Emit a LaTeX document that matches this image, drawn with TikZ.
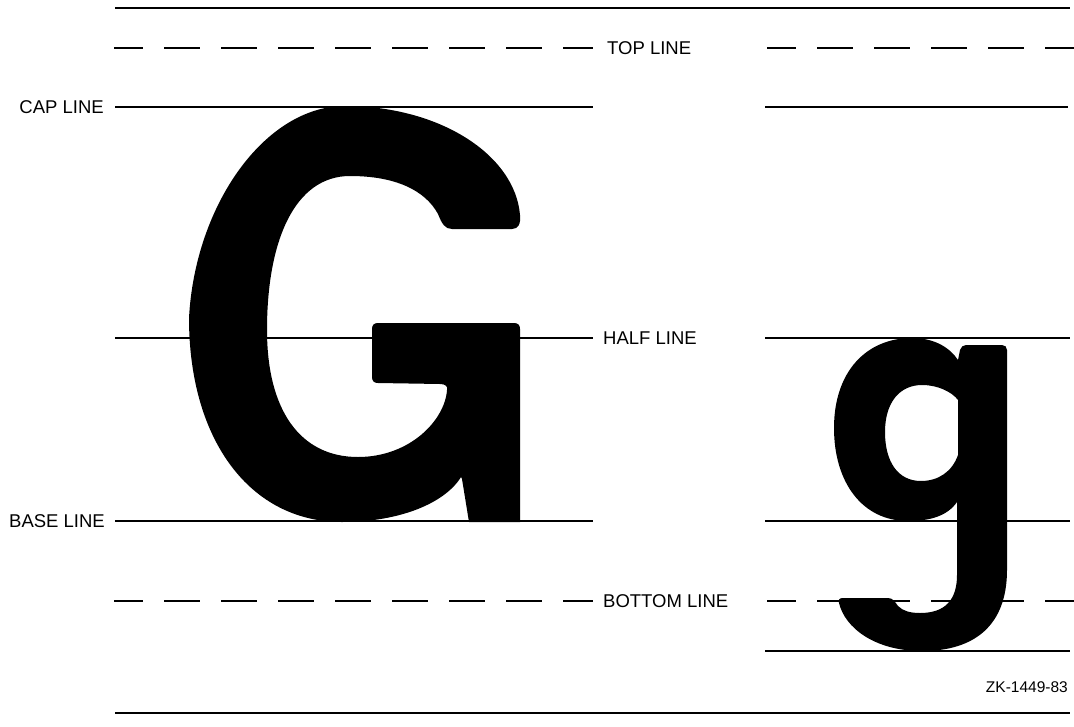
\documentclass[tikz,border=0pt]{standalone}
\usepackage{fontspec}
\setmainfont{Liberation Sans}

\tikzset{
    rule/.style={line width=1.8pt},
    dashrule/.style={line width=1.8pt, dash pattern=on 36pt off 21pt, dash phase=7pt},
    tag/.style={font=\fontsize{18.5}{20}\selectfont, inner sep=0pt},
    glyph/.style={fill=black, even odd rule}
}

\begin{document}
\begin{tikzpicture}[x=1pt, y=-1pt]
    \useasboundingbox (0,0) rectangle (1074,726);

    % Labels
    \node[tag, anchor=west] (top)    at (607,48)  {TOP LINE};
    \node[tag, anchor=east] (cap)    at (104,107) {CAP LINE};
    \node[tag, anchor=west] (half)   at (603,338) {HALF LINE};
    \node[tag, anchor=east] (base)   at (105,521) {BASE LINE};
    \node[tag, anchor=west] (bottom) at (603,601) {BOTTOM LINE};
    \node[font=\fontsize{15.5}{17}\selectfont, inner sep=0pt, anchor=east] (ref) at (1068,687) {ZK-1449-83};

    % Frame
    \draw[rule] (115,8) -- (1070,8);
    \draw[rule] (115,713) -- (1070,713);

    % Guide lines, capital
    \draw[dashrule] (114,48) -- ([xshift=-14pt]top.west);
    \draw[rule] ([xshift=11pt]cap.east) -- (593,107);
    \draw[rule] (115,338) -- ([xshift=-10pt]half.west);
    \draw[rule] ([xshift=10pt]base.east) -- (593,521);
    \draw[dashrule] (114,601) -- ([xshift=-10pt]bottom.west);

    % Guide lines, lower case
    \draw[dashrule] (767,48) -- (1074,48);
    \draw[rule] (765,107) -- (1068,107);
    \draw[rule] (765,338) -- (1070,338);
    \draw[rule] (765,521) -- (1070,521);
    \draw[dashrule] (767,601) -- (1074,601);
    \draw[rule] (765,651) -- (1070,651);

    % Capital G
    \fill[glyph] (461,477)
        .. controls (445,503) and (400,522) .. (342,522)
        .. controls (250,522) and (189,440) .. (189,318)
        .. controls (195,205) and (265,106) .. (345,106)
        .. controls (440,106) and (515,155) .. (520,215)
        .. controls (521,224) and (518,229) .. (512,229)
        -- (452,229)
        .. controls (445,229) and (442,224) .. (438,214)
        .. controls (425,190) and (395,176) .. (350,176)
        .. controls (295,176) and (267,240) .. (267,330)
        .. controls (267,410) and (300,457) .. (358,457)
        .. controls (410,457) and (445,420) .. (447,390)
        .. controls (448,386) and (445,384) .. (440,384)
        -- (378,383)
        .. controls (374,383) and (372,381) .. (372,377)
        -- (372,329)
        .. controls (372,325) and (374,323) .. (378,323)
        -- (514,323)
        .. controls (518,323) and (520,325) .. (520,329)
        -- (520,522)
        -- (469,522)
        -- (462,479)
        -- cycle;

    % Lower-case g
    \fill[glyph] (966,345) -- (1002,345)
        .. controls (1005,345) and (1007,347) .. (1007,350)
        -- (1007,570)
        .. controls (1007,625) and (975,651) .. (922,651)
        .. controls (875,651) and (845,628) .. (839,603)
        .. controls (838,600) and (839,598) .. (843,598)
        -- (888,598)
        .. controls (893,598) and (895,602) .. (898,606)
        .. controls (903,611) and (910,613) .. (920,613)
        .. controls (945,613) and (957,600) .. (957,575)
        -- (957,502)
        .. controls (948,515) and (932,521) .. (908,521)
        .. controls (862,521) and (834,482) .. (834,428)
        .. controls (834,372) and (866,338) .. (912,338)
        .. controls (935,338) and (950,348) .. (958,360)
        -- (960,350)
        .. controls (961,347) and (963,345) .. (966,345) -- cycle
        (958,400) -- (958,455)
        .. controls (952,472) and (938,481) .. (921,481)
        .. controls (898,481) and (885,462) .. (885,432)
        .. controls (885,402) and (900,385) .. (922,385)
        .. controls (938,385) and (952,392) .. (958,400) -- cycle;

\end{tikzpicture}
\end{document}
